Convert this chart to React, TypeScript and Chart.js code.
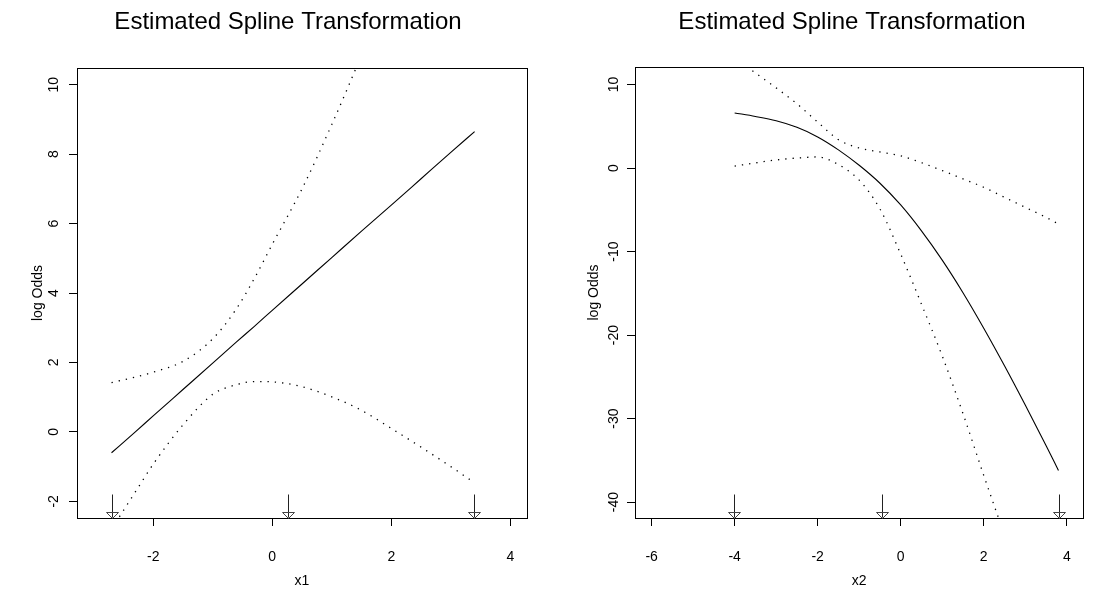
import React, { useEffect, useRef } from "react";
import { Chart, registerables } from "chart.js";

Chart.register(...registerables);

// ---------- data ----------
const TITLE = "Estimated Spline Transformation";
const Y_LABEL = "log Odds";

const x1Grid = [-2.7, -2.3, -2.0, -1.5, -1.0, -0.6, -0.3, 0, 0.5, 1.0, 1.5, 2.0, 2.5, 3.0, 3.4];
const fit1 = [-0.6, 0.0, 0.46, 1.22, 1.98, 2.59, 3.04, 3.5, 4.26, 5.02, 5.78, 6.53, 7.29, 8.05, 8.65];
const upper1 = [1.42, 1.58, 1.72, 2.03, 2.68, 3.55, 4.42, 5.4, 7.0, 8.85, 10.85, 12.9, 15.0, 17.0, 18.7];
const lower1 = [-2.8, -1.73, -0.93, 0.2, 1.08, 1.36, 1.45, 1.44, 1.3, 1.01, 0.62, 0.1, -0.44, -1.0, -1.47];
const rug1 = [-2.7, 0.27, 3.39];
const x1Ticks = [-2, 0, 2, 4];
const y1Ticks = [-2, 0, 2, 4, 6, 8, 10];

const x2Grid = [-4.0, -3.5, -3.0, -2.5, -2.0, -1.5, -1.0, -0.5, 0, 0.5, 1.0, 1.5, 2.0, 2.5, 3.0, 3.5, 3.8];
const fit2 = [6.6, 6.18, 5.66, 4.88, 3.73, 2.18, 0.33, -1.82, -4.42, -7.52, -11.02, -14.92, -19.17, -23.67, -28.37, -33.22, -36.2];
const upper2 = [13.2, 11.4, 9.6, 7.7, 5.5, 3.4, 2.4, 1.93, 1.46, 0.64, -0.3, -1.3, -2.3, -3.5, -4.7, -5.9, -6.7];
const lower2 = [0.24, 0.62, 0.97, 1.2, 1.33, 0.42, -1.44, -4.9, -10.3, -16.3, -22.5, -29.4, -36.8, -44.0, -51.5, -59.0, -63.5];
const rug2 = [-4.02, -0.45, 3.82];
const x2Ticks = [-6, -4, -2, 0, 2, 4];
const y2Ticks = [-40, -30, -20, -10, 0, 10];

// ---------- styling ----------
const FONT = "'Liberation Sans', Arial, Helvetica, sans-serif";
const CANVAS_W = 547;
const CANVAS_H = 592;

const framePlugin = {
  id: "frame",
  afterDatasetsDraw(chart: any, _args: any, opts: any) {
    const { ctx, chartArea: a, scales } = chart;
    ctx.save();
    ctx.strokeStyle = "#000";
    ctx.lineWidth = 1;
    const l = Math.round(a.left) + 0.5;
    const t = Math.round(a.top) + 0.5;
    const r = Math.round(a.right) + 0.5;
    const b = Math.round(a.bottom) + 0.5;
    ctx.strokeRect(l, t, r - l, b - t);

    // rug arrows
    const xs = scales.x;
    (opts.rug || []).forEach((v: number) => {
      const px = Math.round(xs.getPixelForValue(v)) + 0.5;
      ctx.strokeStyle = "#222";
      ctx.beginPath();
      ctx.moveTo(px, b - 24);
      ctx.lineTo(px, b - 1);
      ctx.stroke();
      ctx.strokeStyle = "#444";
      ctx.beginPath();
      ctx.moveTo(px - 6, b - 6);
      ctx.lineTo(px + 6, b - 6);
      ctx.lineTo(px, b);
      ctx.closePath();
      ctx.stroke();
    });

    // title
    ctx.fillStyle = "#000";
    ctx.font = `${opts.titleSize}px ${FONT}`;
    ctx.textAlign = "center";
    ctx.textBaseline = "middle";
    ctx.fillText(opts.title, opts.titleX, opts.titleY);
    ctx.restore();
  },
};

type PanelSpec = {
  xGrid: number[];
  fit: number[];
  upper: number[];
  lower: number[];
  rug: number[];
  xTicks: number[];
  yTicks: number[];
  xMin: number;
  xMax: number;
  yMin: number;
  yMax: number;
  xLabel: string;
  yAxisWidth: number;
  padRight: number;
  top: number;
  titleX: number;
  yTickPad: number;
  yTitlePad: number;
};

const panels: PanelSpec[] = [
  {
    xGrid: x1Grid, fit: fit1, upper: upper1, lower: lower1, rug: rug1,
    xTicks: x1Ticks, yTicks: y1Ticks,
    xMin: -3.28, xMax: 4.28, yMin: -2.48, yMax: 10.48,
    xLabel: "x1", yAxisWidth: 77, padRight: 20, top: 68, titleX: 288,
    yTickPad: 7, yTitlePad: 30,
  },
  {
    xGrid: x2Grid, fit: fit2, upper: upper2, lower: lower2, rug: rug2,
    xTicks: x2Ticks, yTicks: y2Ticks,
    xMin: -6.4, xMax: 4.4, yMin: -41.9, yMax: 12.1,
    xLabel: "x2", yAxisWidth: 88, padRight: 9, top: 67, titleX: 305,
    yTickPad: 3, yTitlePad: 39,
  },
];

function toPts(xs: number[], ys: number[]) {
  return xs.map((x, i) => ({ x, y: ys[i] }));
}

function makeConfig(p: PanelSpec): any {
  const lineBase = {
    pointRadius: 0,
    borderColor: "#000",
    cubicInterpolationMode: "monotone",
    fill: false,
  };
  return {
    type: "line",
    data: {
      datasets: [
        { ...lineBase, label: "fit", data: toPts(p.xGrid, p.fit), borderWidth: 1.1 },
        { ...lineBase, label: "upper", data: toPts(p.xGrid, p.upper), borderWidth: 1.3, borderDash: [1.3, 6] },
        { ...lineBase, label: "lower", data: toPts(p.xGrid, p.lower), borderWidth: 1.3, borderDash: [1.3, 6] },
      ],
    },
    options: {
      animation: false,
      responsive: false,
      events: [],
      layout: { padding: { left: 0, right: p.padRight, top: p.top, bottom: 0 } },
      plugins: {
        legend: { display: false },
        tooltip: { enabled: false },
        title: { display: false },
        frame: { rug: p.rug, title: TITLE, titleX: p.titleX, titleY: 22, titleSize: 24 },
      },
      scales: {
        x: {
          type: "linear",
          min: p.xMin,
          max: p.xMax,
          afterBuildTicks: (s: any) => { s.ticks = p.xTicks.map((v) => ({ value: v })); },
          afterFit: (s: any) => { s.height = CANVAS_H - 518; },
          grid: { drawOnChartArea: false, drawTicks: true, tickLength: 8, tickColor: "#000", lineWidth: 1 },
          border: { display: false },
          ticks: { color: "#000", font: { family: FONT, size: 14 }, padding: 23, maxRotation: 0, autoSkip: false },
          title: { display: true, text: p.xLabel, color: "#000", font: { family: FONT, size: 14 }, padding: { top: 0, bottom: 2 } },
        },
        y: {
          type: "linear",
          min: p.yMin,
          max: p.yMax,
          afterBuildTicks: (s: any) => { s.ticks = p.yTicks.map((v) => ({ value: v })); },
          afterFit: (s: any) => { s.width = p.yAxisWidth; },
          grid: { drawOnChartArea: false, drawTicks: true, tickLength: 8, tickColor: "#000", lineWidth: 1 },
          border: { display: false },
          ticks: {
            color: "#000", font: { family: FONT, size: 14 }, padding: p.yTickPad,
            minRotation: 90, maxRotation: 90, crossAlign: "center", autoSkip: false,
          },
          title: { display: true, text: Y_LABEL, color: "#000", font: { family: FONT, size: 14 }, padding: { top: p.yTitlePad, bottom: 0 } },
        },
      },
    },
    plugins: [framePlugin],
  };
}

function Panel({ spec, left }: { spec: PanelSpec; left: number }) {
  const ref = useRef<HTMLCanvasElement>(null);
  useEffect(() => {
    if (!ref.current) return;
    const chart = new Chart(ref.current, makeConfig(spec));
    return () => chart.destroy();
  }, [spec]);
  return (
    <div style={{ position: "absolute", left, top: 0, width: CANVAS_W, height: CANVAS_H }}>
      <canvas ref={ref} width={CANVAS_W} height={CANVAS_H} style={{ display: "block" }} />
    </div>
  );
}

export default function App() {
  return (
    <div style={{ position: "absolute", left: 0, top: 0, width: 1094, height: 592, background: "#fff" }}>
      <Panel spec={panels[0]} left={0} />
      <Panel spec={panels[1]} left={547} />
    </div>
  );
}
